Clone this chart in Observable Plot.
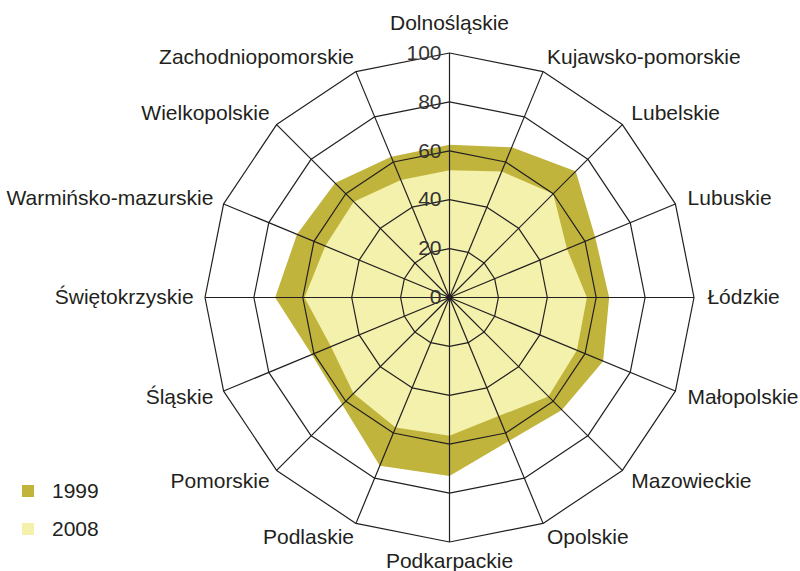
<!DOCTYPE html>
<html>
<head>
<meta charset="utf-8">
<script src="https://cdn.jsdelivr.net/npm/d3@7"></script>
<script src="https://cdn.jsdelivr.net/npm/@observablehq/plot@0.6"></script>
<style>
  html, body { margin: 0; padding: 0; background: #fff; }
  #wrap { position: relative; width: 800px; height: 571px; font-family: "Liberation Sans", Arial, Helvetica, sans-serif; }
  #legend { position: absolute; left: 22px; top: 472px; font-size: 21px; color: #231f20; }
  .item { display: flex; align-items: center; height: 38px; }
  .sw { width: 12px; height: 12px; margin-right: 18px; }
</style>
</head>
<body>
<div id="wrap"></div>
<script>
const regions = ["Dolnośląskie","Kujawsko-pomorskie","Lubelskie","Lubuskie","Łódzkie","Małopolskie","Mazowieckie","Opolskie","Podkarpackie","Podlaskie","Pomorskie","Śląskie","Świętokrzyskie","Warmińsko-mazurskie","Wielkopolskie","Zachodniopomorskie"];
const values1999 = [62.5, 66.5, 73, 64.5, 65.3, 68, 65, 63.5, 73, 74.5, 62, 61, 71.3, 67.5, 66.2, 62.3];
const values2008 = [52, 55.8, 60, 52, 56.2, 56.4, 57.2, 52.5, 56.5, 57.6, 55.5, 52.5, 59.3, 55, 55.4, 52];
const seriesNames = ["1999", "2008"];
const seriesColors = ["#c0b43c", "#f3f1ab"];
const tickValues = [0, 20, 40, 60, 80, 100];

const n = regions.length;
const ang = i => i * 2 * Math.PI / n;
const k = 2.445; // px per unit
const cx = 449, cy = 297, W = 800, H = 571;

function poly(vals, name) {
  return vals.map((v, i) => ({series: name, x: v * Math.sin(ang(i)), y: v * Math.cos(ang(i))}));
}
const p1999 = poly(values1999, "1999");
const p2008 = poly(values2008, "2008");

const rings = tickValues.filter(t => t > 0).flatMap(t => regions.map((r, i) => ({ring: t, x: t * Math.sin(ang(i)), y: t * Math.cos(ang(i))})));
const spokes = regions.map((r, i) => ({x2: 100 * Math.sin(ang(i)), y2: 100 * Math.cos(ang(i))}));
const R = 106.3;
const labels = regions.map((r, i) => {
  const s = Math.sin(ang(i)), c = Math.cos(ang(i));
  return {name: r, x: R * s, y: R * c, s, c};
});
const tickData = tickValues.map(t => ({t, y: t}));
const fs = 21;

const chart = Plot.plot({
  width: W, height: H,
  marginTop: 0, marginBottom: 0, marginLeft: 0, marginRight: 0,
  x: {domain: [-cx / k, (W - cx) / k], axis: null},
  y: {domain: [-(H - cy) / k, cy / k], axis: null},
  style: {fontFamily: '"Liberation Sans", Arial, Helvetica, sans-serif', background: "white"},
  marks: [
    Plot.line(p1999, {x: "x", y: "y", curve: "linear-closed", fill: seriesColors[0], stroke: "none"}),
    Plot.line(p2008, {x: "x", y: "y", curve: "linear-closed", fill: seriesColors[1], stroke: "none"}),
    Plot.line(rings, {x: "x", y: "y", z: "ring", curve: "linear-closed", fill: "none", stroke: "#231f20", strokeWidth: 1.2}),
    Plot.link(spokes, {x1: 0, y1: 0, x2: "x2", y2: "y2", stroke: "#231f20", strokeWidth: 1.2}),
    Plot.dot([{x: 0, y: 0}], {x: "x", y: "y", r: 3, fill: "#231f20", stroke: "none"}),
    Plot.text(tickData, {x: 0, y: "y", text: d => String(d.t), textAnchor: "end", dx: -8, fontSize: fs, fill: "#333"}),
    Plot.text(labels.filter(d => d.s > 0.1), {x: "x", y: "y", text: "name", textAnchor: "start", dx: -2, fontSize: fs, fill: "#231f20"}),
    Plot.text(labels.filter(d => d.s < -0.1), {x: "x", y: "y", text: "name", textAnchor: "end", dx: 4, fontSize: fs, fill: "#231f20"}),
    Plot.text(labels.filter(d => Math.abs(d.s) <= 0.1 && d.c > 0), {x: "x", y: "y", text: "name", textAnchor: "middle", dy: -14, fontSize: fs, fill: "#231f20"}),
    Plot.text(labels.filter(d => Math.abs(d.s) <= 0.1 && d.c < 0), {x: "x", y: "y", text: "name", textAnchor: "middle", dy: 4, fontSize: fs, fill: "#231f20"})
  ]
});

const wrap = document.getElementById("wrap");
wrap.appendChild(chart);
const legend = document.createElement("div");
legend.id = "legend";
seriesNames.forEach((name, i) => {
  const item = document.createElement("div");
  item.className = "item";
  const sw = document.createElement("span");
  sw.className = "sw";
  sw.style.background = seriesColors[i];
  const t = document.createElement("span");
  t.textContent = name;
  item.appendChild(sw); item.appendChild(t);
  legend.appendChild(item);
});
wrap.appendChild(legend);
</script>
</body>
</html>
